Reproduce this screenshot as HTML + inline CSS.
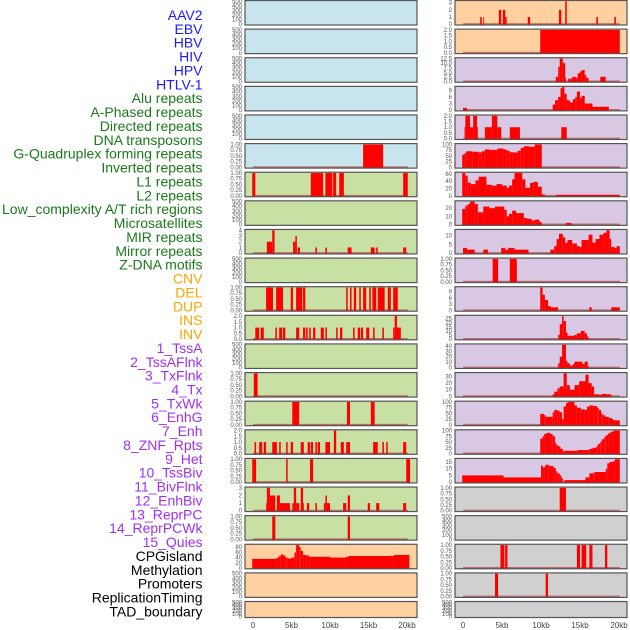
<!DOCTYPE html>
<html><head><meta charset="utf-8"><style>
html,body{margin:0;padding:0;background:#fff;}
svg{display:block;font-family:"Liberation Sans",sans-serif;}
</style></head><body>
<svg id="chart" width="630" height="630" viewBox="0 0 630 630" xmlns="http://www.w3.org/2000/svg"></svg>
<script>
// ---- data ----
const labelNames = ["AAV2","EBV","HBV","HIV","HPV","HTLV-1","Alu repeats","A-Phased repeats","Directed repeats","DNA transposons","G-Quadruplex forming repeats","Inverted repeats","L1 repeats","L2 repeats","Low_complexity A/T rich regions","Microsatellites","MIR repeats","Mirror repeats","Z-DNA motifs","CNV","DEL","DUP","INS","INV","1_TssA","2_TssAFlnk","3_TxFlnk","4_Tx","5_TxWk","6_EnhG","7_Enh","8_ZNF_Rpts","9_Het","10_TssBiv","11_BivFlnk","12_EnhBiv","13_ReprPC","14_ReprPCWk","15_Quies","CPGisland","Methylation","Promoters","ReplicationTiming","TAD_boundary"];
const labelGroups = [0,0,0,0,0,0,1,1,1,1,1,1,1,1,1,1,1,1,1,2,2,2,2,2,3,3,3,3,3,3,3,3,3,3,3,3,3,3,3,4,4,4,4,4];
const groupColors = ["#1a1aff","#1a7a1a","#ffa500","#a030f0","#000000"];
const xTickLabels = ["0","5kb","10kb","15kb","20kb"];
const xTickValues = [0,5,10,15,20];

const T_EMPTY = ["0","100","200","300","400","500"];
const T_ONE = ["0.00","0.25","0.50","0.75","1.00"];
const T_TWO = ["0.0","0.5","1.0","1.5","2.0"];

// left column panels: [background, ymax, tick labels, segments [startKb,endKb,value]]
const segL6 = [[14.3,16.9,1]];
const segL7 = [[-0.1,0.3,1],[7.5,9.1,1],[9.4,10.3,1],[10.4,10.8,1],[11.2,11.8,1],[19.5,20.1,1]];
const segL9 = [[1.8,2.5,2],[2.5,2.8,4],[5.2,5.5,2],[5.5,5.7,3],[5.8,6.1,1],[8.1,8.3,1],[9.4,9.6,1],[12.3,12.8,1],[15.3,15.8,1],[16.0,16.2,1],[19.5,19.9,1]];
const segL11 = [[1.7,2.6,1],[3.0,3.9,1],[4.9,5.2,1],[5.6,6.4,1],[6.5,6.8,1],[12.1,12.3,1],[12.6,12.8,1],[13.1,13.4,1],[13.8,14.0,1],[14.3,14.7,1],[15.1,15.3,1],[15.5,16.0,1],[16.2,17.1,1],[17.5,17.9,1],[18.2,18.8,1]];
const segL12 = [[0.3,0.8,1],[1.0,1.4,1],[2.9,3.1,1],[3.4,3.8,1],[3.9,4.2,1],[5.6,6.0,1],[6.5,6.8,1],[6.9,7.1,1],[7.3,7.5,1],[7.8,8.1,1],[8.8,9.2,1],[9.4,9.6,1],[10.8,11.0,1],[11.3,11.6,1],[13.0,13.2,1],[13.6,13.9,1],[14.0,14.3,1],[14.7,15.1,1],[15.6,15.8,1],[16.8,17.0,1],[18.2,18.4,1],[18.4,18.7,2],[18.7,19.2,1]];
const segL14 = [[0.1,0.6,1]];
const segL15 = [[5.1,6.0,1],[12.2,12.6,1],[15.3,15.8,1]];
const segL16 = [[0.2,0.4,1],[0.8,1.2,1],[1.4,1.7,1],[2.5,3.1,1],[3.4,3.6,1],[4.3,4.5,1],[4.9,5.2,1],[6.2,6.6,1],[7.1,7.4,1],[7.5,7.8,1],[8.1,8.3,1],[8.4,8.7,1],[9.4,10.0,1],[10.5,10.8,2],[11.4,11.8,1],[12.1,12.6,1],[15.6,16.2,1],[16.8,17.0,1],[17.3,17.5,1],[19.5,19.9,1]];
const segL17 = [[-0.1,0.4,1],[4.3,4.5,1],[7.4,7.8,1],[19.9,20.4,1]];
const segL18 = [[1.7,1.8,1],[1.8,2.2,3],[2.2,2.9,2],[3.1,3.5,2],[3.5,4.8,1],[5.1,5.3,1],[5.3,5.6,3],[5.6,6.0,1],[6.2,6.5,3],[6.5,6.6,1],[7.0,7.3,1],[8.1,8.3,1],[9.2,9.4,1],[9.4,9.6,2],[9.6,10.0,1],[11.7,12.1,1],[12.3,12.6,2],[14.9,15.2,1],[16.0,16.4,1],[19.5,19.9,1]];
const segL19 = [[2.5,2.9,1],[12.3,12.6,1]];
const segL20 = [[-0.1,3,35],[3,3.3,38],[3.3,3.6,45],[3.6,3.9,52],[3.9,4.2,48],[4.2,4.5,40],[4.5,5,36],[5,5.4,40],[5.4,5.6,60],[5.6,6,88],[6,6.2,80],[6.2,6.5,65],[6.5,6.9,50],[6.9,7.3,48],[7.3,10,43],[10,12,40],[12,12.4,42],[12.4,18.3,46],[18.3,20.3,50]];

// right column panels
const segR1 = [[2.2,2.4,1],[2.6,2.7,1],[4.6,4.9,2],[5.1,5.4,2],[5.4,5.6,1],[8.3,8.6,1],[12.3,12.6,2],[13.1,13.3,3.2],[17.1,17.3,1],[19.4,19.6,1]];
const segR2 = [[9.9,20.1,2]];
const segR3 = [[11.9,12.2,2.5],[12.2,12.4,8],[12.4,12.8,12.5],[12.8,13.1,10],[13.1,13.2,2],[13.5,14.0,1.5],[14.0,14.5,2.5],[14.5,14.7,2],[14.7,15.0,4.5],[15.0,15.2,5.5],[15.2,15.6,6.2],[15.6,15.8,3.5],[15.8,16.1,2],[17.6,18.3,2.5]];
const segR4 = [[0,0.5,1],[11.5,11.8,2.5],[11.8,12.2,4.5],[12.2,12.5,6],[12.5,12.7,10],[12.7,13.0,10.5],[13.0,13.3,7.5],[13.3,13.7,4.5],[13.7,14.1,3.5],[14.1,14.4,5],[14.4,14.6,6],[14.6,15.0,8.5],[15.0,15.2,5.5],[15.2,15.6,6.5],[15.6,16.1,3],[16.1,16.6,3],[16.6,18.7,1.5]];
const segR5 = [[0.2,0.3,1],[0.3,0.9,2],[0.9,1.3,1],[1.3,1.8,2],[1.8,1.9,1],[2.8,3.7,1],[3.7,4.4,2],[4.4,4.9,1],[6.0,7.3,1],[12.6,13.3,1]];
const segR6 = [[-0.1,0.2,55],[0.2,0.4,62],[0.4,1.2,70],[1.2,2,68],[2,2.4,65],[2.4,2.8,70],[2.8,3.4,78],[3.4,4.4,76],[4.4,5.2,82],[5.2,5.6,78],[5.6,6,72],[6,6.4,66],[6.4,7,65],[7,7.4,72],[7.4,7.8,85],[7.8,8.4,92],[8.4,9.2,90],[9.2,10.1,100]];
const segR7 = [[-0.1,0.3,62],[0.3,0.6,55],[0.6,1.0,36],[1.0,1.6,32],[1.6,2.0,42],[2.0,3.0,52],[3.0,3.7,30],[3.7,4.3,28],[4.3,5.0,32],[5.0,5.6,28],[5.6,5.9,22],[5.9,6.3,28],[6.3,6.6,45],[6.6,7.6,62],[7.6,8.0,45],[8.0,8.6,22],[8.6,9.0,35],[9.0,9.6,38],[9.6,10.1,25],[10.1,10.5,4],[11.9,20.1,3]];
const segR8 = [[-0.1,0.3,19],[0.3,0.6,23],[0.6,0.9,25],[0.9,1.5,28],[1.5,1.9,25],[1.9,2.6,15],[2.6,3.4,22],[3.4,4.1,20],[4.1,5.3,22],[5.3,5.6,18],[5.6,5.9,10],[5.9,6.3,13],[6.3,6.8,17],[6.8,7.8,14],[7.8,8.2,8],[8.2,8.8,7],[8.8,9.2,5],[9.2,9.8,6],[9.8,10.1,3],[13.2,13.9,2]];
const segR9 = [[0,0.5,3],[0.5,1.5,2],[2.6,3.2,2],[4.9,5.4,3],[5.4,5.8,2],[5.8,6.6,3],[6.6,8.4,2],[11.2,11.7,2],[11.7,12.0,4],[12.0,12.3,8],[12.3,12.8,11],[12.8,13.1,9],[13.1,13.4,6],[13.4,14.0,7.5],[14.0,14.6,5.5],[14.6,14.9,4],[14.9,15.2,3.5],[15.2,16.1,7.5],[16.1,16.6,10.5],[16.6,17.0,6],[17.0,17.5,8],[17.5,18.0,10.5],[18.0,18.4,11.5],[18.4,18.8,13],[18.8,19.0,8],[19.0,19.4,3.5],[19.4,19.7,3],[19.7,20.1,4]];
const segR10 = [[3.8,4.5,1],[6.0,6.9,1]];
const segR11 = [[9.9,10.2,11],[10.2,10.5,7.5],[10.5,10.9,5],[10.9,11.3,2],[11.3,12.2,1.5],[16.2,16.5,1.5],[19.0,20.1,1.5]];
const segR12 = [[12.2,12.4,5],[12.4,12.7,18],[12.7,12.9,28],[12.9,13.2,22],[13.2,13.4,8],[13.4,14.3,4],[14.3,14.6,5],[14.6,15.1,7],[15.1,15.6,10],[15.6,15.9,7],[15.9,16.1,3]];
const segR13 = [[12.2,12.4,8],[12.4,12.7,20],[12.7,13.2,42],[13.2,13.4,12],[13.4,13.7,8],[13.7,14.1,4],[14.1,14.3,7],[14.3,15.3,11],[15.3,15.6,7],[15.6,16.0,11],[16.0,16.1,3]];
const segR14 = [[11.5,11.7,3],[11.7,12.1,7],[12.1,12.4,12],[12.4,12.9,15],[12.9,13.3,35],[13.3,13.7,17],[13.7,14.3,10],[14.3,14.9,17],[14.9,15.7,23],[15.7,16.1,33],[16.1,16.5,20],[16.5,16.8,15],[16.8,17.4,3],[17.4,17.8,2.5],[17.8,18.4,3.5],[18.4,19.0,3]];
const segR15 = [[9.9,10.4,48],[10.4,10.6,42],[10.6,11.5,35],[11.5,11.7,55],[11.7,12.1,65],[12.1,12.4,62],[12.4,12.7,55],[12.7,12.9,25],[12.9,13.2,80],[13.2,13.4,95],[13.4,14.3,100],[14.3,14.6,85],[14.6,15.1,75],[15.1,15.6,68],[15.6,15.9,65],[15.9,16.2,80],[16.2,16.7,85],[16.7,17.2,82],[17.2,17.4,75],[17.4,17.7,65],[17.7,17.9,50],[17.9,18.2,42],[18.2,18.7,35],[18.7,19.1,30],[19.1,19.3,25],[19.3,20.1,20]];
const segR16 = [[9.9,10.2,65],[10.2,10.4,75],[10.4,10.7,85],[10.7,11.2,90],[11.2,11.5,85],[11.5,11.8,75],[11.8,12.0,45],[12.0,12.3,35],[12.3,12.5,30],[12.5,12.8,20],[12.8,13.0,10],[13.0,14.7,12],[14.7,16.2,15],[16.2,16.6,20],[16.6,17.1,25],[17.1,17.3,32],[17.3,17.6,42],[17.6,17.8,52],[17.8,18.1,62],[18.1,18.3,72],[18.3,18.6,80],[18.6,18.9,88],[18.9,19.3,95],[19.3,20.1,100]];
const segR17 = [[-0.1,5.2,5],[5.2,10.0,3.5],[10.0,10.2,12.5],[10.2,10.5,11],[10.5,10.7,12.5],[10.7,11.0,13],[11.0,11.6,12],[11.6,11.9,10.5],[11.9,12.1,8],[12.1,12.4,6.5],[12.4,12.6,5],[12.6,12.8,3],[13.0,15.7,1.5],[15.7,16.2,3.5],[16.2,16.7,6.5],[16.7,16.9,7],[16.9,18.3,7.5],[18.3,18.5,10],[18.5,18.8,14],[18.8,19.3,15],[19.3,19.5,16],[19.5,20.1,17]];
const segR18 = [[12.4,13.2,1]];
const segR20 = [[4.8,5.3,1],[5.4,5.7,1],[14.6,15.0,1],[15.2,15.8,1],[16.2,16.6,1],[18.2,18.5,1]];
const segR21 = [[4.1,4.5,1],[10.6,10.9,1]];

const BLUE="#c8e4ec", GREEN="#c8e0a4", PEACH="#ffd0a0", LAV="#d8c8e4", GRAY="#d0d0d0";
const leftPanels = [
 [BLUE,500,T_EMPTY,null],[BLUE,500,T_EMPTY,null],[BLUE,500,T_EMPTY,null],[BLUE,500,T_EMPTY,null],[BLUE,500,T_EMPTY,null],
 [BLUE,1,T_ONE,segL6],[GREEN,1,T_ONE,segL7],[GREEN,500,T_EMPTY,null],[GREEN,4,["0","1","2","3","4"],segL9],[GREEN,500,T_EMPTY,null],
 [GREEN,1,T_ONE,segL11],[GREEN,2,T_TWO,segL12],[GREEN,500,T_EMPTY,null],[GREEN,1,T_ONE,segL14],[GREEN,1,T_ONE,segL15],
 [GREEN,2,T_TWO,segL16],[GREEN,1,T_ONE,segL17],[GREEN,3,["0","1","2","3"],segL18],[GREEN,1,T_ONE,segL19],
 [PEACH,88,["0","20","40","60","80"],segL20],[PEACH,500,T_EMPTY,null],[PEACH,500,T_EMPTY,null]
];
const rightPanels = [
 [PEACH,3.2,["0","1","2","3"],segR1],[PEACH,2,T_TWO,segR2],[LAV,12.5,["0.0","2.5","5.0","7.5","10.0","12.5"],segR3],
 [LAV,10.5,["0","3","6","9"],segR4],[LAV,2,T_TWO,segR5],[LAV,100,["0","25","50","75","100"],segR6],
 [LAV,62,["0","20","40","60"],segR7],[LAV,28,["0","10","20"],segR8],[LAV,13,["0","5","10"],segR9],
 [LAV,1,T_ONE,segR10],[LAV,11,["0","3","6","9"],segR11],[LAV,28,["0","5","10","15","20","25"],segR12],
 [LAV,42,["0","10","20","30","40"],segR13],[LAV,35,["0","10","20","30"],segR14],[LAV,100,["0","25","50","75","100"],segR15],
 [LAV,100,["0","25","50","75","100"],segR16],[LAV,17,["0","5","10","15"],segR17],[GRAY,1,T_ONE,segR18],
 [GRAY,500,T_EMPTY,null],[GRAY,1,T_ONE,segR20],[GRAY,1,T_ONE,segR21],[GRAY,500,T_EMPTY,null]
];

// ---- drawing ----
const NS="http://www.w3.org/2000/svg";
const svg=document.getElementById('chart');
function mk(tag,attrs,parent){const e=document.createElementNS(NS,tag);for(const k in attrs)e.setAttribute(k,attrs[k]);(parent||svg).appendChild(e);return e;}

labelNames.forEach((n,i)=>{
  const t=mk('text',{x:202.5,y:20+i*13.87,'text-anchor':'end','font-size':14,fill:groupColors[labelGroups[i]]});
  
  
  t.textContent=n;
});

const rowTop=i=>0.5+i*28.62;
function drawColumn(panels,colName,x0,x1,kb0,kbScale){
  const xs=kb=>kb0+kb*kbScale;
  panels.forEach((p,i)=>{
    const [bg,ymax,ticks,segs]=p;
    const top=rowTop(i);
    const h=(i===21)?16:24.5;
    const bot=top+h;
    const g=mk('g',{});
    
    
    mk('rect',{x:x0,y:top,width:x1-x0,height:h,fill:bg},g);
    const ys=v=>(bot-0.8)-v/ymax*(h-1.6);
    if(segs){
      mk('rect',{x:xs(0),y:bot-1.8,width:xs(20.1)-xs(0),height:1.6,fill:'#b04040',opacity:0.7},g);
      segs.forEach(s=>{
        const r=mk('rect',{x:xs(s[0]),y:ys(s[2]),width:Math.max(0.8,xs(s[1])-xs(s[0])),height:bot-ys(s[2]),fill:'#ff0000'},g);
        
        
      });
    }
    mk('rect',{x:x0,y:top,width:x1-x0,height:h,fill:'none',stroke:'#555','stroke-width':1.2},g);
    const tmax=parseFloat(ticks[ticks.length-1]);
    ticks.forEach(t=>{
      const v=parseFloat(t);
      const yy=segs?ys(v):(bot-0.8)-v/tmax*(h-1.6);
      const tt=mk('text',{x:x0-3,y:yy+2,'text-anchor':'end','font-size':6,fill:'#555'},g);
      
      
      tt.textContent=t;
    });
  });
  xTickValues.forEach((v,k)=>{
    const t=mk('text',{x:xs(v),y:628,'text-anchor':'middle','font-size':8,fill:'#444'});
    
    
    t.textContent=xTickLabels[k];
  });
}
drawColumn(leftPanels,'left',245,417,253,7.7);
drawColumn(rightPanels,'right',455,627,463,7.8);
</script>
</body></html>
